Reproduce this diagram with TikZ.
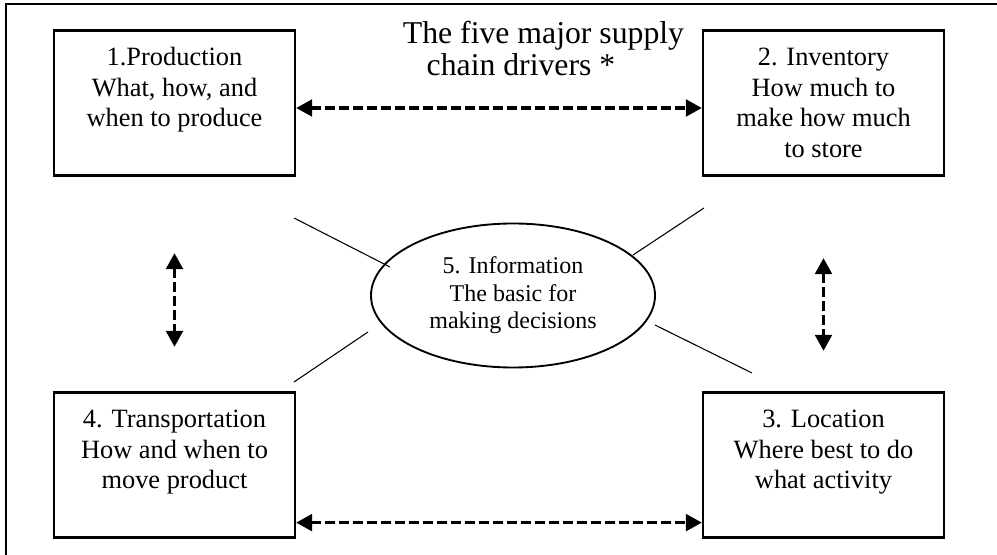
\documentclass[tikz,border=0pt]{standalone}
\usepackage{fontspec}
\setmainfont{Liberation Serif}
\usetikzlibrary{arrows.meta,shapes.geometric}

% box text sits at the top of a fixed frame
\newcommand{\drvtxt}[1]{\parbox[c][108.75pt][t]{180.75pt}{\centering\rule{0pt}{26.25pt}#1}}

\tikzset{
  drvbox/.style={draw, line width=1.7pt, inner sep=0pt, font=\fontsize{19.8}{22.9}\selectfont},
  infobox/.style={draw, ellipse, line width=1.4pt, minimum width=213pt, minimum height=108pt,
    inner sep=0pt, align=center, font=\fontsize{18}{20.6}\selectfont},
  link/.style={line width=2.4pt, dash pattern=on 7pt off 3.5pt,
    {Triangle[length=12pt,width=12.5pt]}-{Triangle[length=12pt,width=12.5pt]}},
  spoke/.style={line width=0.8pt},
}

\begin{document}
\begin{tikzpicture}[x=0.75pt,y=-0.75pt]
        \useasboundingbox (0,0) rectangle (997,555);
        % Outer frame
        \draw [line width=1.5pt] (6,555) -- (6,4) -- (997,4);

        \node[anchor=north,inner sep=0pt,align=center,font=\fontsize{23.8}{24}\selectfont] (title) at (543.5,10)
            {\rule{0pt}{24.75pt}The five major supply\\chain drivers *\makebox[33.75pt]{}};

        % Drivers
        \node[drvbox] (prod) at (174.5,103) {\drvtxt{1.Production\\What, how, and\\when to produce}};
        \node[drvbox] (inv) at (823.5,103) {\drvtxt{2. Inventory\\How much to\\make how much\\to store}};
        \node[drvbox] (loc) at (823.5,465) {\drvtxt{3. Location\\Where best to do\\what activity}};
        \node[drvbox] (trans) at (174.5,465) {\drvtxt{4. Transportation\\How and when to\\move product}};
        \node[infobox] (info) at (513,295.5) {5. Information\\The basic for\\making decisions};

        % Links between drivers
        \draw[link] ([yshift=-3.75pt]prod.east) -- ([yshift=-3.75pt]inv.west);
        \draw[link] ([yshift=12pt]trans.south east) -- ([yshift=12pt]loc.south west);

        \coordinate (pt_l) at ([yshift=-57.4pt]prod.south);
        \coordinate (pb_l) at ([yshift=33.4pt]trans.north);
        \coordinate (pt_r) at ([yshift=-61.1pt]inv.south);
        \coordinate (pb_r) at ([yshift=30.4pt]loc.north);
        \draw[link] (pt_l) -- (pb_l);
        \draw[link] (pt_r) -- (pb_r);

        \foreach \xa/\ya/\xb/\yb [count=\i] in {294/218/390/267, 704/208/633/255, 294/382/368/332, 752/373/655/325}
           {
                \draw[spoke] (\xa,\ya) coordinate (so_\i) -- (\xb,\yb) coordinate (si_\i);
           }
\end{tikzpicture}
\end{document}
